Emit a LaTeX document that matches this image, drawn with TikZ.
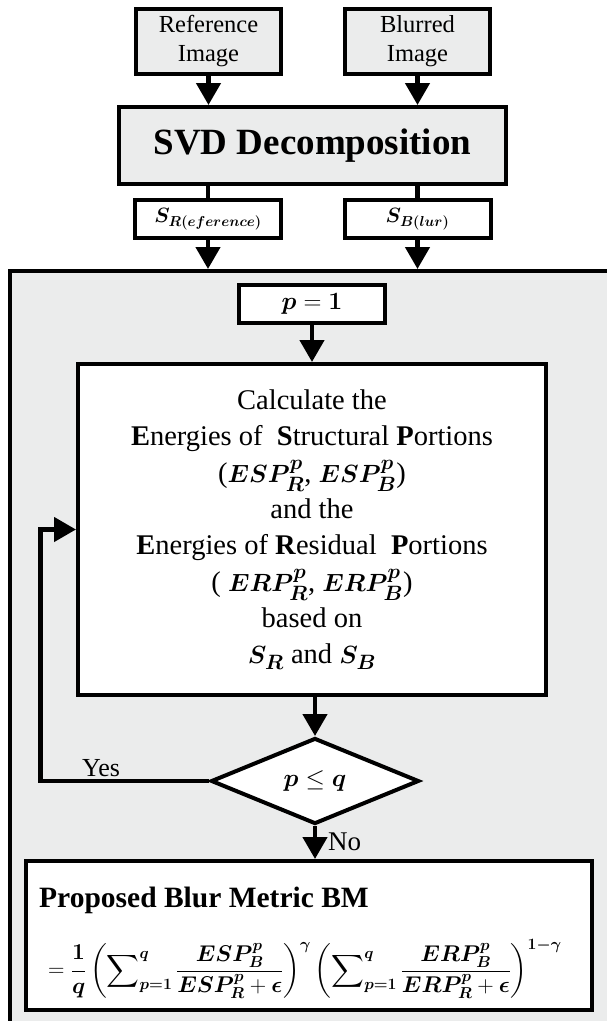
\documentclass[tikz,border=0pt]{standalone}
\usepackage{amsmath}
\usepackage{bm}
\usepackage{fontspec}
\setmainfont{Liberation Serif}
\usetikzlibrary{shapes.geometric,arrows.meta}
\definecolor{lgray}{RGB}{235,236,236}
\tikzstyle{gbox}=[draw,line width=4pt,fill=lgray,align=center,inner sep=0pt]
\tikzstyle{wbox}=[draw,line width=4pt,fill=white,align=center,inner sep=0pt]
\tikzstyle{arr}=[line width=4.5pt,-{Triangle[length=22pt,width=24pt]}]
\tikzstyle{ln}=[line width=4.5pt]
\newcommand{\fsize}[2]{\fontsize{#1}{#2}\selectfont}

\begin{document}
\begin{tikzpicture}[x=1pt,y=-1pt]
\useasboundingbox (0,0) rectangle (607,1021);
\fill[lgray] (9.5,271) rectangle (607,1021);
\draw[line width=4pt] (607,271) -- (9.5,271) -- (9.5,1021);
\coordinate (top) at (0,269);
\node[gbox, minimum width=145pt, minimum height=65pt, font=\fsize{24.5}{29}] (ref) at (208.5,41.5) {Reference\\Image};
\node[gbox, minimum width=145pt, minimum height=65pt, font=\fsize{24.5}{29}] (blr) at (417.5,41.5) {Blurred\\Image};
\node[gbox, minimum width=387pt, minimum height=77pt, font=\bfseries\fsize{37}{37}] (svd) at (312.5,145.5) {SVD Decomposition};
\node[wbox, minimum width=146pt, minimum height=38pt, font=\fsize{21.5}{21.5}] (sr) at (208,219) {$\bm{S_{R(eference)}}$};
\node[wbox, minimum width=146pt, minimum height=38pt, font=\fsize{21.5}{21.5}] (sb) at (417.5,219) {$\bm{S_{B(lur)}}$};
\node[wbox, minimum width=146pt, minimum height=38pt, font=\fsize{25}{25}] (p1) at (312,304) {$\bm{p}=\bm{1}$};
\node[wbox, minimum width=468pt, minimum height=331pt, font=\fsize{28.5}{36.3}] (calc) at (312,529.5) {Calculate the\\
\textbf{E}nergies of~ \textbf{S}tructural \textbf{P}ortions\\
($\bm{ESP^p_R}$, $\bm{ESP^p_B}$)\\
and the\\
\textbf{E}nergies of \textbf{R}esidual~ \textbf{P}ortions\\
( $\bm{ERP^p_R}$, $\bm{ERP^p_B}$)\\
based on\\
$\bm{S_R}$ and $\bm{S_B}$};
\node[diamond, draw, line width=4pt, fill=white, inner sep=0pt, aspect=2.5, minimum width=208pt, minimum height=86pt, font=\fsize{25}{25}] (dec) at (315,781) {$\bm{p}\le\bm{q}$};
\node[wbox, minimum width=566pt, minimum height=149pt] (bm) at (309,935.5) {};
\node[anchor=base west, inner sep=0pt, font=\bfseries\fsize{29.5}{29.5}] (title) at (39,907) {Proposed Blur Metric BM};
\node[anchor=west, inner sep=0pt, font=\fsize{25}{25}] (eq) at (48,969) {\scalebox{0.915}{$\displaystyle =\bm{\frac{1}{q}}\left(\sum\nolimits_{\bm{p=1}}^{\bm{q}}\frac{\bm{ESP^p_B}}{\bm{ESP^p_R}+\bm{\epsilon}}\right)^{\bm{\gamma}}\left(\sum\nolimits_{\bm{p=1}}^{\bm{q}}\frac{\bm{ERP^p_B}}{\bm{ERP^p_R}+\bm{\epsilon}}\right)^{\bm{1-\gamma}}$}};
\node[anchor=base west, inner sep=0pt, font=\fsize{26}{26}] (yes) at (82,776) {Yes};
\node[anchor=base west, inner sep=0pt, font=\fsize{27}{27}] (no) at (328,850) {No};
\coordinate (lp) at (40.5,781);
\draw[arr] (ref.south) -- (ref.south |- svd.north);
\draw[arr] (blr.south) -- (blr.south |- svd.north);
\draw[ln] (sr.north |- svd.south) -- (sr.north);
\draw[ln] (sb.north |- svd.south) -- (sb.north);
\draw[arr] (sr.south) -- (sr.south |- top);
\draw[arr] (sb.south) -- (sb.south |- top);
\draw[arr] (p1) -- (calc);
\draw[arr] (calc.south -| dec.north) -- (dec.north);
\draw[arr] (dec.south) -- (dec.south |- bm.north);
\draw[arr] (dec.west) -- (lp) |- (calc.west);
\end{tikzpicture}
\end{document}
